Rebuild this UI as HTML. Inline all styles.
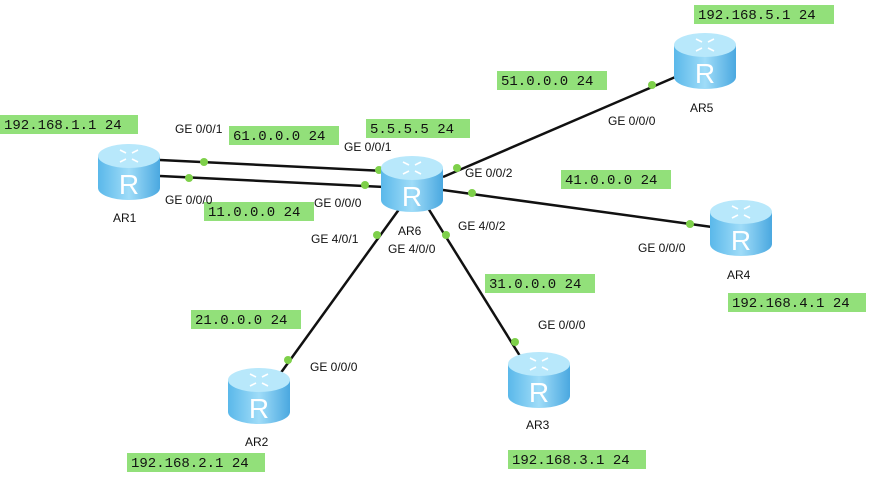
<!DOCTYPE html>
<html><head><style>
body{margin:0;background:#fff;}
svg text{font-family:"Liberation Sans",sans-serif;font-size:12px;fill:#111;}
svg text.m{font-family:"Liberation Mono",monospace;font-size:14px;}
</style></head><body>
<svg width="888" height="481" viewBox="0 0 888 481" xmlns="http://www.w3.org/2000/svg">
<defs>
<linearGradient id="b" x1="0" x2="1">
<stop offset="0" stop-color="#5ab8ea"/><stop offset="0.5" stop-color="#9fdcf8"/><stop offset="1" stop-color="#4aa8e0"/>
</linearGradient>
<g id="r">
<path d="M-31,-15 L-31,17 A31,12 0 0 0 31,17 L31,-15 Z" fill="url(#b)"/>
<ellipse cx="0" cy="-15" rx="31" ry="12" fill="#b8e8fb"/>
<g stroke="#fff" stroke-width="1.6" fill="none">
<path d="M-9,-21 L-3,-18 M9,-21 L3,-18 M-9,-9 L-3,-12 M9,-9 L3,-12"/>
</g>
<text x="0" y="23" text-anchor="middle" style="font-size:28px;fill:#fff;font-family:'Liberation Sans',sans-serif">R</text>
</g>
</defs>
<g stroke="#111" stroke-width="2.5">
<line x1="160" y1="160" x2="384" y2="171"/>
<line x1="160" y1="176" x2="384" y2="187"/>
<line x1="443" y1="177" x2="680" y2="75"/>
<line x1="443" y1="190" x2="712" y2="227"/>
<line x1="400" y1="208" x2="280" y2="374"/>
<line x1="428" y1="208" x2="520" y2="356"/>
</g>
<g fill="#7ed04a">
<circle cx="204" cy="162" r="4"/><circle cx="379" cy="170" r="4"/>
<circle cx="189" cy="178" r="4"/><circle cx="365" cy="185" r="4"/>
<circle cx="457" cy="168" r="4"/><circle cx="652" cy="85" r="4"/>
<circle cx="472" cy="193" r="4"/><circle cx="690" cy="224" r="4"/>
<circle cx="377" cy="235" r="4"/><circle cx="288" cy="360" r="4"/>
<circle cx="446" cy="235" r="4"/><circle cx="515" cy="342" r="4"/>
</g>
<use href="#r" x="129" y="171"/>
<use href="#r" x="412" y="183"/>
<use href="#r" x="705" y="60"/>
<use href="#r" x="741" y="227"/>
<use href="#r" x="539" y="379"/>
<use href="#r" x="259" y="395"/>
<text x="113" y="222">AR1</text><text x="398" y="235">AR6</text>
<text x="690" y="112">AR5</text><text x="727" y="279">AR4</text>
<text x="526" y="429">AR3</text><text x="245" y="446">AR2</text>
<g fill="#92e07a">
<rect x="0" y="115" width="138" height="19"/>
<rect x="229" y="126" width="110" height="19"/>
<rect x="366" y="119" width="104" height="19"/>
<rect x="204" y="202" width="110" height="19"/>
<rect x="497" y="71" width="110" height="19"/>
<rect x="694" y="5" width="140" height="19"/>
<rect x="561" y="170" width="110" height="19"/>
<rect x="728" y="293" width="138" height="19"/>
<rect x="485" y="274" width="110" height="19"/>
<rect x="191" y="310" width="110" height="19"/>
<rect x="127" y="453" width="138" height="19"/>
<rect x="508" y="450" width="138" height="19"/>
</g>
<g>
<text class="m" x="4" y="129">192.168.1.1 24</text>
<text class="m" x="233" y="140">61.0.0.0 24</text>
<text class="m" x="370" y="133">5.5.5.5 24</text>
<text class="m" x="208" y="216">11.0.0.0 24</text>
<text class="m" x="501" y="85">51.0.0.0 24</text>
<text class="m" x="698" y="19">192.168.5.1 24</text>
<text class="m" x="565" y="184">41.0.0.0 24</text>
<text class="m" x="732" y="307">192.168.4.1 24</text>
<text class="m" x="489" y="288">31.0.0.0 24</text>
<text class="m" x="195" y="324">21.0.0.0 24</text>
<text class="m" x="131" y="467">192.168.2.1 24</text>
<text class="m" x="512" y="464">192.168.3.1 24</text>
</g>
<text x="175" y="133">GE 0/0/1</text>
<text x="344" y="151">GE 0/0/1</text>
<text x="165" y="204">GE 0/0/0</text>
<text x="314" y="207">GE 0/0/0</text>
<text x="465" y="177">GE 0/0/2</text>
<text x="608" y="125">GE 0/0/0</text>
<text x="458" y="230">GE 4/0/2</text>
<text x="638" y="252">GE 0/0/0</text>
<text x="311" y="243">GE 4/0/1</text>
<text x="388" y="253">GE 4/0/0</text>
<text x="538" y="329">GE 0/0/0</text>
<text x="310" y="371">GE 0/0/0</text>
</svg>
</body></html>
